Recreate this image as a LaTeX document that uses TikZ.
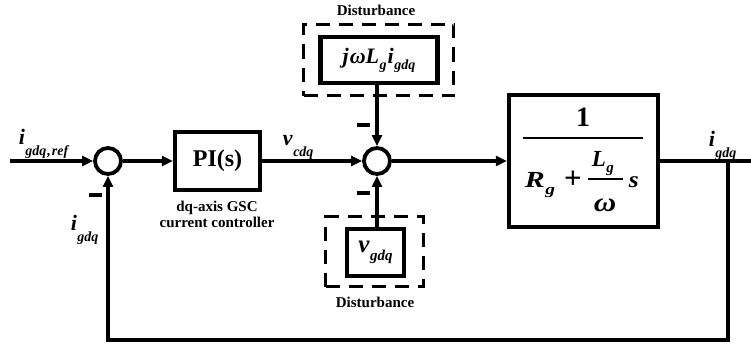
\documentclass[tikz,border=0pt]{standalone}
\usepackage{fontspec}
\setmainfont{Liberation Serif}
\usetikzlibrary{arrows.meta}
\newcommand\bi[1]{\textbf{\textit{#1}}}
\newcommand\fsz[1]{\fontsize{#1}{#1}\selectfont}
\newcommand\vsub[4][0.5em]{{\bi{#2}\kern0.5pt\raisebox{-#1}{\fontsize{#4}{#4}\selectfont\bi{#3}}}}
\begin{document}
\begin{tikzpicture}[x=1pt,y=-1pt,line width=3.6pt,
  blk/.style={draw,line width=4.4pt,inner sep=0pt},
  dbox/.style={draw,line width=2.8pt,dash pattern=on 14pt off 9pt,inner sep=0pt},
  sumc/.style={draw,circle,line width=3.8pt,minimum size=26pt,inner sep=0pt},
  arr/.style={-{Triangle[length=11pt,width=10pt]}},
  minus/.style={fill,minimum width=13pt,minimum height=3.6pt,inner sep=0pt},
  lab/.style={inner sep=0pt,anchor=base west,font=\fsz{22}},
  frc/.style={inner sep=0pt,anchor=base west,font=\fsz{23}},
  captxt/.style={font=\fontsize{15}{16}\selectfont\bfseries,align=center,inner sep=0pt}]
\useasboundingbox (0,0) rectangle (751,345);
% nodes
\coordinate (in) at (10,161);
\node[sumc] (s1) at (108,161) {};
\node[blk,minimum width=85,minimum height=58] (pi) at (217.5,161) {\fsz{24}\textbf{PI(s)}};
\node[captxt] (pil) at (217,214) {dq-axis GSC\\current controller};
\node[sumc] (s2) at (377,161) {};
\node[blk,minimum width=117,minimum height=46] (dt) at (379,60) {\fsz{22}\bi{j\kern1pt ω}\vsub[0.28em]{L}{g}{14}\kern1pt\vsub[0.28em]{i}{gdq}{14}};
\node[dbox,minimum width=150,minimum height=71] (dtb) at (378.5,60) {};
\node[captxt] (dtl) at (376,10) {Disturbance};
\node[blk,minimum width=57,minimum height=47] (vg) at (375.5,252.5) {\fsz{25}\vsub[0.32em]{v}{gdq}{15}\rule[-6pt]{0pt}{18pt}};
\node[dbox,minimum width=98,minimum height=70] (vgb) at (374.5,251.5) {};
\node[captxt] (vgl) at (375,302) {Disturbance};
\node[blk,minimum width=149,minimum height=132] (pl) at (583.5,161) {};
% plant transfer function
\node[inner sep=0pt,font=\fsz{28}\bfseries] (one) at (583,117) {1};
\coordinate (fl1) at (523,138);
\coordinate (fl2) at (643,138);
\node[frc] (rg) at (523,187) {\scalebox{1.3}[1]{\vsub[0.32em]{R}{g}{15}}};
\node[inner sep=0pt,font=\fsz{31}\bfseries] (plus) at (573,180) {+};
\node[frc] (lg) at (590,166) {\vsub[0.3em]{L}{g}{15}};
\coordinate (il1) at (588,179);
\coordinate (il2) at (623,179);
\node[inner sep=0pt,anchor=base,font=\fsz{27}] (om) at (605,211) {\scalebox{1.15}[1]{\bi{ω}}};
\node[frc] (ss) at (627,187) {\scalebox{1.1}[1]{\bi{s}}};
\coordinate (out) at (751,161);
\coordinate (br) at (728,161);
\coordinate (fb) at (728,340);
% labels
\node[lab] (l1) at (17,144) {\vsub{i}{gdq\kern1pt,\kern1pt ref}{14}};
\node[lab] (l2) at (69,230) {\vsub{i}{gdq}{14}};
\node[lab] (l3) at (281,145) {\vsub{v}{cdq}{14}};
\node[lab] (l4) at (707,146) {\vsub{i}{gdq}{14}};
% minus signs
\node[minus] (m1) at (95,195) {};
\node[minus] (m2) at (363,125) {};
\node[minus] (m3) at (363,193) {};
% fraction bars
\draw[line width=2pt] (fl1) -- (fl2);
\draw[line width=1.6pt] (il1) -- (il2);
% connectors
\draw[arr] (in) -- (s1);
\draw[arr] (s1) -- (pi);
\draw[arr] (pi) -- (s2);
\draw[arr] (s2) -- (pl);
\draw[arr] (dt.south -| s2) -- (s2);
\draw[arr] (vg.north -| s2) -- (s2);
\draw (pl.east) -- (out);
\draw[arr] (br) |- (s1 |- fb) -- (s1);
\end{tikzpicture}
\end{document}
